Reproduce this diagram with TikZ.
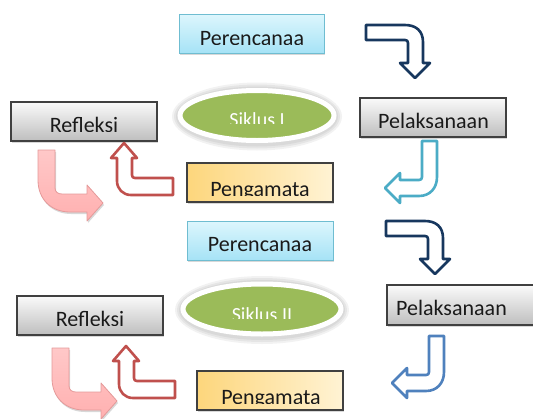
\documentclass[tikz,border=0pt]{standalone}
\usepackage{fontspec}
\setmainfont{Carlito}
\usetikzlibrary{shadows}
\definecolor{navyc}{HTML}{17375E}
\definecolor{cyanc}{HTML}{4BACC6}
\definecolor{bluec}{HTML}{4F81BD}
\definecolor{redc}{HTML}{C0504D}
\definecolor{pinkf}{HTML}{FFB0B0}
\definecolor{pinkt}{HTML}{FFC8C8}
\definecolor{pinkd}{HTML}{E59A9A}
\definecolor{greenc}{HTML}{9BBB59}
\definecolor{boxline}{HTML}{404040}
\definecolor{cyantop}{HTML}{DDF6FD}
\definecolor{cyanbot}{HTML}{A6E3F6}
\definecolor{graytop}{HTML}{FAFAFA}
\definecolor{graybot}{HTML}{BEBEBE}
\definecolor{orl}{HTML}{FDD67C}
\definecolor{orr}{HTML}{FFF3D4}
\definecolor{txt}{HTML}{1A1A1A}
\tikzset{
  shad/.style={drop shadow={opacity=0.3, shadow xshift=1pt, shadow yshift=-2pt}},
  cyanbox/.style={shad, draw=cyanc!80, line width=1pt, top color=cyantop, bottom color=cyanbot},
  graybox/.style={shad, draw=boxline, line width=1.2pt, top color=graytop, bottom color=graybot},
  orbox/.style={shad, draw=boxline, line width=1.2pt, left color=orl, right color=orr},
  siklus/.style={fill=greenc, draw=white, line width=5pt},
  glow/.style={fill=black, opacity=0.05},
  lbl/.style={font=\fontsize{22}{26}\selectfont, text=txt, inner sep=0pt},
  slbl/.style={font=\fontsize{20}{24}\selectfont, text=white, inner sep=0pt},
  navyarr/.style={draw=navyc, line width=2.6pt, fill=white, line join=round},
  cyanarr/.style={draw=cyanc, line width=2.6pt, fill=white, line join=round},
  bluearr/.style={draw=bluec, line width=2.6pt, fill=white, line join=round},
  redarr/.style={draw=redc, line width=2.6pt, fill=white, line join=round},
  pinkarr/.style={shad, draw=pinkd, line width=0.8pt, top color=pinkt, bottom color=pinkf, line join=round},
}
\newcommand\cliptxt[6]{%
  \begin{scope}
    \clip (#2-120,#4) rectangle (#2+120,#4-40);
    \node[#5, anchor=base] (#1) at (#2,#3) {#6};
  \end{scope}}
\newcommand\siklusshape[3]{%
  \fill[glow] (#1,#2+1) ellipse [x radius=#3+8, y radius=34];
  \fill[glow] (#1,#2+1) ellipse [x radius=#3+6, y radius=32];
  \fill[glow] (#1,#2+1) ellipse [x radius=#3+4, y radius=30];
  \draw[siklus] (#1,#2) ellipse [x radius=#3, y radius=25];}
\newcommand\navypath{(366,25) -- (405,25) .. controls (416,25) and (423,31) .. (423,42) -- (423,63) -- (430,63) -- (415,78) -- (400,63) -- (408,63) -- (408,43) .. controls (408,41) and (407,40) .. (405,40) -- (366,40) -- cycle}
\newcommand\cyanpath{(422,141) -- (437,141) -- (437,177) .. controls (437,188) and (430,196) .. (419,196) -- (400,196) -- (400,203) -- (385,188) -- (400,173) -- (400,180) -- (419,180) .. controls (421,180) and (422,179) .. (422,177) -- cycle}
\newcommand\redpath{(173,178) -- (173,195) -- (131,195) .. controls (123,195) and (117,189) .. (117,181) -- (117,158) -- (111,158) -- (124,143) -- (137,158) -- (132,158) -- (132,175) .. controls (132,177) and (133,178) .. (135,178) -- cycle}
\newcommand\pinkpath{(38,150) -- (55,150) -- (55,188) .. controls (55,192) and (58,194) .. (62,194) -- (87,194) -- (87,185) -- (103,203) -- (87,221) -- (87,212) -- (70,212) .. controls (52,212) and (38,200) .. (38,180) -- cycle}
\begin{document}
\begin{tikzpicture}[x=1pt,y=-1pt]
\useasboundingbox (0,0) rectangle (533,418);
\clip (0,0) rectangle (533,418);
\fill[white] (0,0) rectangle (533,418);
% ---------- cycle I ----------
\draw[cyanbox] (179,14) rectangle (324,53);
\draw[graybox] (360,98) rectangle (506,137);
\draw[graybox] (11,102) rectangle (157,141);
\draw[orbox] (187,163) rectangle (333,202);
\siklusshape{257}{115.5}{77}
\cliptxt{p1}{252}{45}{44}{lbl}{Perencanaa}
\cliptxt{l1}{433.5}{128.5}{127.5}{lbl}{Pelaksanaan}
\cliptxt{r1}{84}{132.5}{131.5}{lbl}{Refleksi}
\cliptxt{g1}{260}{196}{195}{lbl}{Pengamata}
\cliptxt{s1}{257}{126}{123}{slbl}{Siklus I}
\draw[navyarr] \navypath;
\draw[cyanarr] \cyanpath;
\draw[redarr] \redpath;
\draw[pinkarr] \pinkpath;
% ---------- cycle II ----------
\draw[cyanbox] (187,221) rectangle (333,260);
\draw[graybox] (387,285) rectangle (545,325);
\draw[graybox] (17,296) rectangle (163,335);
\draw[orbox] (197,371) rectangle (343,410);
\siklusshape{262}{309}{79}
\cliptxt{p2}{260}{251.5}{251}{lbl}{Perencanaa}
\cliptxt{l2}{451.5}{315.5}{315}{lbl}{Pelaksanaan}
\cliptxt{r2}{90}{326.5}{325.5}{lbl}{Refleksi}
\cliptxt{g2}{271}{404}{403}{lbl}{Pengamata}
\cliptxt{s2}{262}{321}{318}{slbl}{Siklus II}
\begin{scope}[shift={(20,196)}]
\draw[navyarr] \navypath;
\end{scope}
\begin{scope}[shift={(7,195)}]
\draw[bluearr] \cyanpath;
\end{scope}
\begin{scope}[shift={(2,203)}]
\draw[redarr] \redpath;
\end{scope}
\begin{scope}[shift={(14,198)}]
\draw[pinkarr] \pinkpath;
\end{scope}
\end{tikzpicture}
\end{document}
